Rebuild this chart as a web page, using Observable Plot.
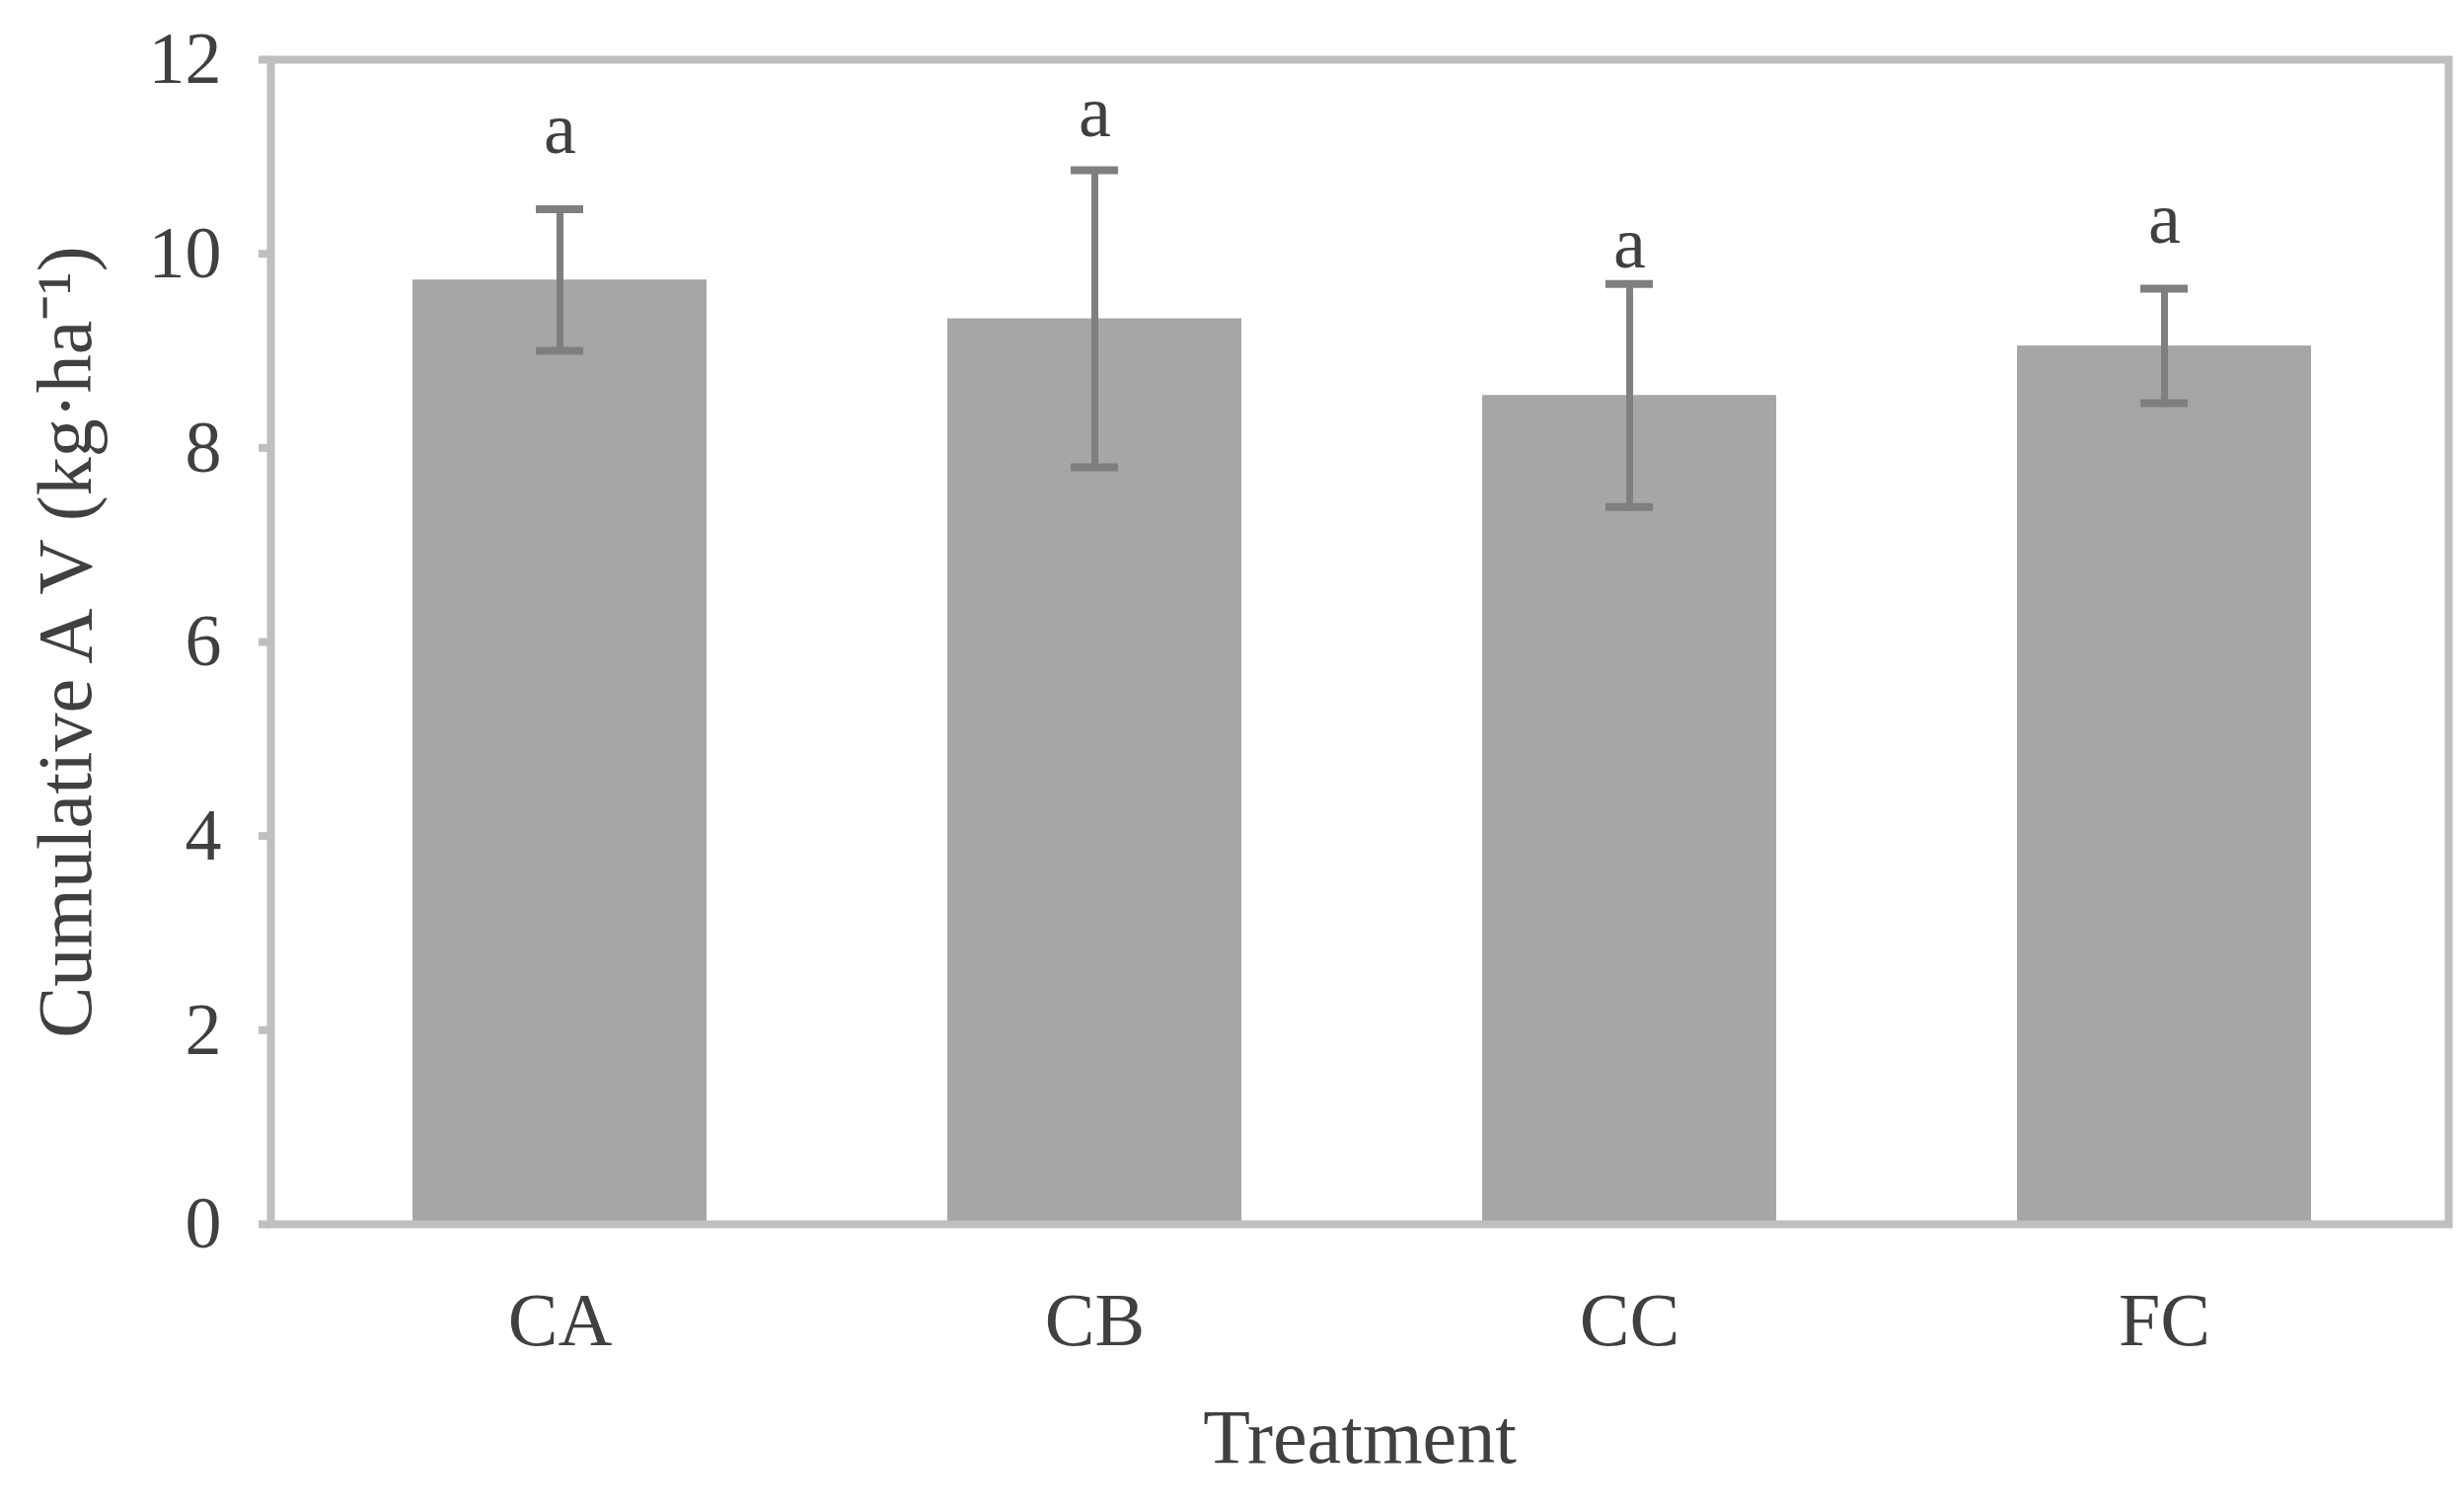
<!DOCTYPE html>
<html>
<head>
<meta charset="utf-8">
<script src="https://cdn.jsdelivr.net/npm/d3@7"></script>
<script src="https://cdn.jsdelivr.net/npm/@observablehq/plot@0.6"></script>
<style>
  html, body { margin: 0; padding: 0; background: #ffffff; }
</style>
</head>
<body>
<div id="chart"></div>
<script>
const treatments = ["CA", "CB", "CC", "FC"];
const means = [9.73, 9.33, 8.54, 9.05];
const errors = [0.73, 1.53, 1.15, 0.59];
const letters = ["a", "a", "a", "a"];
const letterY = [11.28, 11.45, 10.10, 10.35];
const yTicks = [0, 2, 4, 6, 8, 10, 12];

const data = treatments.map((t, i) => ({
  t, mean: means[i], lo: means[i] - errors[i], hi: means[i] + errors[i],
  letter: letters[i], ly: letterY[i]
}));

const font = "'Liberation Serif', 'Times New Roman', serif";
const gridGray = "#bfbfbf";
const textGray = "#404040";

const chart = Plot.plot({
  width: 2497,
  height: 1529,
  marginLeft: 274,
  marginRight: 16,
  marginTop: 60,
  marginBottom: 289,
  style: { fontFamily: font, background: "#ffffff" },
  x: { domain: treatments, paddingInner: 0.45, paddingOuter: 0.26, align: 0.51, axis: null },
  y: { domain: [0, 12], axis: null },
  marks: [
    Plot.barY(data, { x: "t", y: "mean", fill: "#a6a6a6" }),
    Plot.ruleX(data, { x: "t", y1: "lo", y2: "hi", stroke: "#7f7f7f", strokeWidth: 7 }),
    Plot.tickY(data, { x: "t", y: "hi", stroke: "#7f7f7f", strokeWidth: 8, insetLeft: 125, insetRight: 125 }),
    Plot.tickY(data, { x: "t", y: "lo", stroke: "#7f7f7f", strokeWidth: 8, insetLeft: 125, insetRight: 125 }),
    Plot.text(data, { x: "t", y: "ly", text: "letter", fontSize: 74, fill: textGray, lineAnchor: "middle", fontFamily: font }),
    Plot.frame({ stroke: gridGray, strokeWidth: 8 }),
    Plot.axisY(yTicks, {
      tickSize: 12, tickPadding: 38, stroke: gridGray, strokeWidth: 8,
      fill: textGray, fontSize: 74, fontFamily: font, label: null,
      tickFormat: d3.format("d")
    }),
    Plot.axisX({
      tickSize: 0, tickPadding: 69, fill: textGray, fontSize: 76, fontFamily: font, label: null
    }),
    Plot.text(["Treatment"], {
      frameAnchor: "bottom", dy: 217, textAnchor: "middle", lineAnchor: "middle", fontSize: 78, fill: textGray, fontFamily: font
    }),
    Plot.text(["Cumulative A V (kg·ha⁻¹)"], {
      frameAnchor: "left", dx: -207, rotate: -90, textAnchor: "middle", lineAnchor: "middle", fontSize: 78, fill: textGray, fontFamily: font
    })
  ]
});

document.getElementById("chart").appendChild(chart);
</script>
</body>
</html>
